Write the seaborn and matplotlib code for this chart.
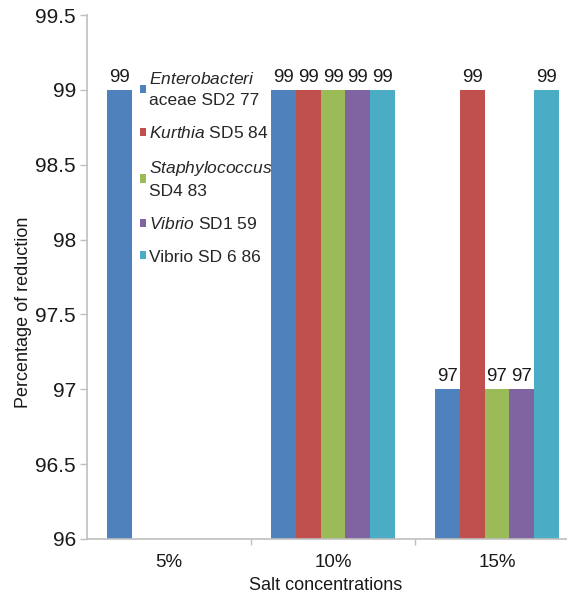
import numpy as np
import pandas as pd
import matplotlib
matplotlib.use("Agg")
import matplotlib.pyplot as plt
import seaborn as sns
from matplotlib.ticker import MultipleLocator, FixedLocator

# ---- data ----
categories = ["5%", "10%", "15%"]
series = ["Enterobacteriaceae SD2 77", "Kurthia SD5 84", "Staphylococcus SD4 83",
          "Vibrio SD1 59", "Vibrio SD 6 86"]
legend_labels = [r"$\mathit{Enterobacteri}$" + "\naceae SD2 77",
                 r"$\mathit{Kurthia}$ SD5 84",
                 r"$\mathit{Staphylococcus}$" + "\nSD4 83",
                 r"$\mathit{Vibrio}$ SD1 59",
                 "Vibrio SD 6 86"]
enterobacteriaceae = [99, 99, 97]
kurthia = [np.nan, 99, 99]
staphylococcus = [np.nan, 99, 97]
vibrio_sd1 = [np.nan, 99, 97]
vibrio_sd6 = [np.nan, 99, 99]
colors = ["#4F81BD", "#C0504D", "#9BBB59", "#8064A2", "#4BACC6"]

rows = []
for name, vals in zip(series, [enterobacteriaceae, kurthia, staphylococcus, vibrio_sd1, vibrio_sd6]):
    for c, v in zip(categories, vals):
        if not np.isnan(v):
            rows.append({"Salt": c, "Series": name, "Value": v})
df = pd.DataFrame(rows)

sns.set_theme(style="white")
FONT = ["Liberation Sans", "DejaVu Sans"]
plt.rcParams["font.family"] = FONT
plt.rcParams["mathtext.fontset"] = "custom"
plt.rcParams["mathtext.it"] = "Liberation Sans:italic"
plt.rcParams["mathtext.rm"] = "Liberation Sans"

TXT = "#1a1a1a"
fig = plt.figure(figsize=(5.67, 5.94), dpi=100)
ax = fig.add_axes([87/567, 1 - 539/594, (579 - 87)/567, (539 - 15)/594])

sns.barplot(data=df, x="Salt", y="Value", hue="Series", order=categories,
            hue_order=series, palette=colors, width=0.76, saturation=1,
            errorbar=None, ax=ax, linewidth=0)

ax.set_ylim(96, 99.5)
ax.set_xlim(-0.5, 2.5)
ax.yaxis.set_major_locator(MultipleLocator(0.5))
ax.set_yticklabels([f"{t:g}" for t in ax.get_yticks()])

for cont in ax.containers:
    ax.bar_label(cont, fmt="%g", padding=3, fontsize=13.5, color=TXT)

for s in ["top", "right"]:
    ax.spines[s].set_visible(False)
for s in ["left", "bottom"]:
    ax.spines[s].set_color("#BFBFBF")
    ax.spines[s].set_linewidth(1.2)

ax.tick_params(axis="y", which="major", length=5, color="#BFBFBF", width=1,
               labelsize=15, labelcolor=TXT, left=True, pad=3)
ax.tick_params(axis="x", which="major", length=0, labelsize=13.5, labelcolor=TXT, pad=11)
ax.xaxis.set_minor_locator(FixedLocator([0.5, 1.5]))
ax.tick_params(axis="x", which="minor", length=4, color="#BFBFBF", bottom=True)

ax.set_ylabel("Percentage of reduction", fontsize=13, color=TXT)
ax.set_xlabel("Salt concentrations", fontsize=13, color=TXT)
ax.yaxis.set_label_coords(-0.112, 0.433)
ax.xaxis.set_label_coords(0.484, -0.072)

handles, _ = ax.get_legend_handles_labels()
if ax.get_legend() is not None:
    ax.get_legend().remove()
leg = ax.legend(handles, legend_labels, loc="upper left", bbox_to_anchor=(0.108, 0.893),
                frameon=False, fontsize=12.5, handlelength=0.35, handleheight=0.35,
                handletextpad=0.15, labelspacing=1.0, borderaxespad=0, borderpad=0)
for t in leg.get_texts():
    t.set_linespacing(1.5)

fig.savefig("out.png", dpi=100)
